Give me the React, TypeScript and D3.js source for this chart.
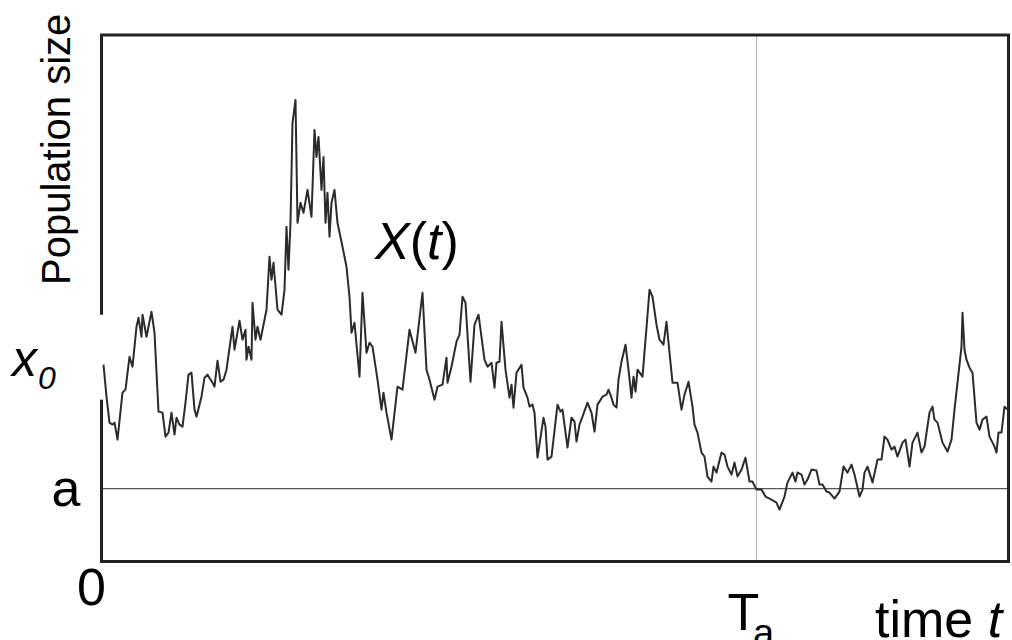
import React, { useEffect, useRef } from 'react';
import * as d3 from 'd3';

// sample path X(t) (time, population size)
const times = [
  2, 5, 8, 11, 13, 16, 21, 24, 28, 31, 35, 37, 40, 41, 45, 50, 53, 57, 61, 64,
  67, 70, 73, 75, 78, 81, 84, 87, 90, 93, 95, 100, 103, 106, 111, 113, 116, 119, 122, 125,
  131, 133, 138, 141, 144, 145, 147, 150, 151, 154, 156, 159, 161, 165,
  168, 170, 172, 176, 180, 183, 185, 187, 189, 191, 194, 196, 199, 202, 206, 210, 213, 215, 217, 220,
  222, 224, 226, 228, 230, 233, 236, 241, 245, 248, 250, 253, 258, 261, 265, 268, 271, 276, 280, 282,
  285, 290, 296, 301,
  308, 314, 321, 325, 328, 333, 336, 341, 345, 346, 350, 355, 358, 361, 364, 369, 373, 377, 383, 386,
  390, 393, 395, 398, 400, 404, 408, 410, 412, 415, 420, 422, 426, 428, 431, 433, 436, 439, 442, 444,
  446, 450, 456, 459, 461, 466, 470, 473, 475, 478, 481, 486, 490, 493, 496, 501, 505, 507, 510, 512,
  515, 517, 520, 524, 527, 530, 532, 534, 536, 541, 545, 548, 551, 555, 558, 562, 565, 568, 571, 576,
  580, 583, 587, 591, 593, 596,
  600, 603, 606, 610, 612, 615, 620, 623, 626, 630, 633, 636, 640, 644, 648, 651, 655, 660, 664, 670,
  675, 678, 683, 686, 691, 694, 696, 700, 703, 706, 710, 715, 718, 721, 725, 728, 733, 738, 742, 746,
  750, 753, 758, 761, 763, 766, 771, 776, 780, 783, 786, 790, 793, 796, 801, 804, 808, 811, 816, 820,
  823, 828, 831, 833, 836, 841, 846, 850, 853, 856, 860, 861, 863, 865, 868, 871, 875, 878, 881, 885,
  888, 893, 895, 897, 900, 903, 906
];
const sizes = [
  197, 165, 139, 137, 139, 122, 169, 172, 205, 195, 235, 244, 225, 247, 225, 250, 229, 150, 149, 125,
  129, 149, 127, 144, 137, 135, 159, 187, 189, 152, 145, 165, 184, 187, 179, 175, 201, 180, 182, 192,
  235, 212, 241, 222, 232, 202, 215, 202, 259, 222, 235, 222, 232, 252,
  305, 282, 299, 252, 247, 272, 335, 292, 339, 439, 462, 339, 359, 349, 372, 345, 432, 405, 425, 372,
  405, 339, 369, 325, 359, 372, 339, 315, 295, 265, 229, 239, 185, 269, 209, 219, 215, 182, 152, 169,
  149, 122, 175, 172,
  232, 209, 269, 192, 182, 162, 175, 177, 204, 179, 195, 220, 227, 265, 259, 180, 237, 247, 202, 195,
  199, 174, 199, 200, 240, 192, 164, 177, 154, 189, 197, 174, 164, 155, 157, 149, 104, 124, 144, 135,
  102, 105, 157, 150, 152, 114, 144, 140, 120, 137, 145, 159, 149, 130, 157, 165, 167, 172, 164, 157,
  154, 182, 200, 217, 192, 164, 185, 170, 192, 185, 234, 272, 265, 237, 222, 217, 240, 209, 179, 179,
  152, 167, 180, 155, 137, 129,
  109, 105, 85, 80, 95, 89, 109, 107, 95, 87, 99, 85, 92, 104, 80, 80, 72, 72, 65, 62,
  59, 52, 65, 79, 89, 80, 89, 87, 77, 82, 92, 91, 77, 77, 70, 69, 63, 70, 95, 89,
  97, 87, 65, 72, 89, 95, 79, 102, 102, 125, 122, 112, 115, 105, 119, 122, 95, 119, 129, 109,
  115, 149, 155, 142, 139, 119, 110, 122, 152, 179, 215, 249, 212, 202, 194, 189, 139, 132, 142, 145,
  125, 115, 109, 129, 129, 155, 152
];

const levelA = 73;      // level a
const startSize = 197;  // x0
const hitTime = 655;    // Ta
const timeMax = 907;
const sizeMax = 527;

const width = 1012;
const height = 640;
const margin = { top: 35, right: 3.5, bottom: 78.5, left: 101.5 };
const font = 'Liberation Sans, Arial, sans-serif';

export default function App() {
  const ref = useRef<SVGSVGElement>(null);

  useEffect(() => {
    const svg = d3.select(ref.current);
    svg.selectAll('*').remove();

    const x = d3.scaleLinear().domain([0, timeMax]).range([margin.left, width - margin.right]);
    const y = d3.scaleLinear().domain([0, sizeMax]).range([height - margin.bottom, margin.top]);

    // Ta marker
    svg.append('line')
      .attr('x1', x(hitTime)).attr('x2', x(hitTime))
      .attr('y1', y(0)).attr('y2', y(sizeMax))
      .attr('stroke', '#bdbdbd')
      .attr('stroke-width', 1.2);

    // level a
    svg.append('line')
      .attr('x1', x(0)).attr('x2', x(timeMax))
      .attr('y1', y(levelA)).attr('y2', y(levelA))
      .attr('stroke', '#555')
      .attr('stroke-width', 1.2);

    // frame
    svg.append('rect')
      .attr('x', x(0)).attr('y', y(sizeMax))
      .attr('width', x(timeMax) - x(0))
      .attr('height', y(0) - y(sizeMax))
      .attr('fill', 'none')
      .attr('stroke', '#222')
      .attr('stroke-width', 3);

    // white patch behind the x0 label
    svg.append('rect')
      .attr('x', x(0) - 4.5).attr('y', y(startSize + 50))
      .attr('width', 7)
      .attr('height', y(startSize - 35) - y(startSize + 50))
      .attr('fill', '#fff');

    const line = d3.line<[number, number]>()
      .x(d => x(d[0]))
      .y(d => y(d[1]));

    svg.append('path')
      .attr('d', line(d3.zip(times, sizes) as [number, number][]))
      .attr('fill', 'none')
      .attr('stroke', '#2b2b2b')
      .attr('stroke-width', 2)
      .attr('stroke-linejoin', 'round');

    const label = (tx: number, ty: number, size: number) =>
      svg.append('text')
        .attr('x', tx).attr('y', ty)
        .attr('font-family', font)
        .attr('font-size', size)
        .attr('fill', '#000');

    // y axis title
    svg.append('text')
      .attr('transform', 'translate(70,285) rotate(-90)')
      .attr('font-family', font)
      .attr('font-size', 40)
      .text('Population size');

    // x0
    const x0 = label(12, y(startSize) + 11, 50);
    x0.append('tspan').attr('font-style', 'italic').text('x');
    x0.append('tspan').attr('font-style', 'italic').attr('font-size', 32).attr('x', 38).attr('y', y(startSize) + 24).text('0');

    // a
    label(x(0) - 21, y(levelA) + 17.5, 52).attr('text-anchor', 'end').text('a');

    // origin
    label(x(0) - 10, 605, 52).attr('text-anchor', 'middle').text('0');

    // Ta
    const ta = label(x(hitTime) - 29, 630, 52);
    ta.append('tspan').text('T');
    ta.append('tspan').attr('font-size', 38).attr('x', x(hitTime) - 3.5).attr('y', 646).text('a');

    // time t
    const tt = label(875, 637, 52);
    tt.append('tspan').text('time ');
    tt.append('tspan').attr('font-style', 'italic').text('t');

    // X(t)
    const xt = label(375, 259, 52);
    xt.append('tspan').attr('font-style', 'italic').text('X');
    xt.append('tspan').text('(');
    xt.append('tspan').attr('font-style', 'italic').text('t');
    xt.append('tspan').text(')');
  }, []);

  return (
    <svg
      ref={ref}
      width={width}
      height={height}
      style={{ position: 'absolute', left: 0, top: 0, background: '#fff' }}
    />
  );
}
